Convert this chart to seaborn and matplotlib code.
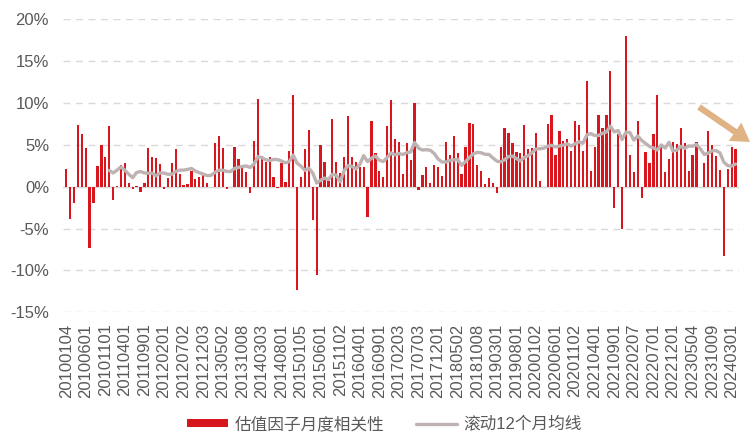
import numpy as np
import pandas as pd
import matplotlib
matplotlib.use("Agg")
import matplotlib.pyplot as plt
import seaborn as sns
from matplotlib.patches import Patch
from matplotlib.lines import Line2D

# ---- data (monthly, Jan 2010 .. Apr 2024), values in % ----
corr_values = [
    2.1, -3.9, -2.0, 7.4, 6.3, 4.6, -7.3, -2.0, 2.5, 5.0, 3.5, 7.2, -1.6,
    0.1, 2.6, 2.8, 0.5, -0.3, 0.1, -0.6, 0.4, 4.6, 3.6, 3.4, 2.7, -0.3, 1.0, 2.8,
    4.5, 1.5, 0.2, 0.3, 1.9, 0.9, 1.2, 1.4, 0.5, 0.0, 5.2, 6.0, 4.6, -0.3, 0.0,
    4.8, 3.3, 2.4, 1.8, -0.7, 5.5, 10.5, 3.7, 3.0, 3.6, 1.2, -0.2, 2.8, 0.6, 4.3, 11.0,
    -12.3, 1.2, 4.5, 6.8, -4.0, -10.5, 5.0, 3.0, 0.7, 8.1, 3.0, 1.6, 3.5, 8.5, 3.5,
    3.0, 2.4, 2.3, -3.6, 7.8, 4.0, 1.9, 1.2, 7.2, 10.3, 5.7, 5.4, 1.5, 5.2, 3.2,
    10.0, -0.4, 1.4, 2.4, 0.4, 2.6, 2.4, 1.3, 5.3, 3.8, 6.0, 4.0, 1.5, 4.7, 7.6,
    7.5, 2.6, 1.9, 0.3, 1.0, 0.4, -0.8, 4.8, 7.0, 6.4, 5.2, 4.2, 4.0, 7.4, 4.5, 4.6,
    6.4, 0.7, 0.0, 7.5, 8.6, 3.8, 6.7, 5.5, 5.7, 4.3, 7.8, 7.4, 4.3, 12.6, 1.9,
    4.8, 8.6, 7.0, 8.6, 13.8, -2.6, 6.3, -5.1, 18.0, 3.8, 1.7, 7.8, -1.4, 4.1, 2.8,
    6.3, 10.9, 4.7, 1.8, 3.3, 5.3, 5.1, 7.0, 5.2, 1.9, 3.8, 5.3, 0.0, 2.8, 6.7,
    5.0, 3.7, 2.0, -8.3, 2.1, 4.8, 4.5,
]
months = pd.date_range("2010-01-01", periods=len(corr_values), freq="MS").strftime("%Y%m").tolist()
tick_labels = [
    "20100104", "20100601", "20101101", "20110401", "20110901", "20120201",
    "20120702", "20121203", "20130502", "20131008", "20140303", "20140801",
    "20150105", "20150601", "20151102", "20160401", "20160901", "20170203",
    "20170703", "20171201", "20180502", "20181008", "20190301", "20190801",
    "20200102", "20200601", "20201102", "20210401", "20210901", "20220207",
    "20220701", "20221201", "20230504", "20231009", "20240301",
]
bar_label = "估值因子月度相关性"
line_label = "滚动12个月均线"

df = pd.DataFrame({"month": months, "corr": corr_values})
df["pos"] = np.arange(len(df))
df["roll"] = df["corr"].rolling(12).mean()

# ---- style ----
sns.set_style("white")
plt.rcParams["font.family"] = ["Liberation Sans", "Noto Sans CJK SC", "DejaVu Sans"]

RED = "#D7161E"
GREY_LINE = "#BEB2B2"
TXT = "#595959"

fig = plt.figure(figsize=(7.5, 4.44), dpi=100)
ax = fig.add_axes([0.084, 0.2966, 0.901, 0.66])

sns.barplot(data=df, x="month", y="corr", color=RED, saturation=1, width=0.58,
            linewidth=0, ax=ax, zorder=3)
sns.lineplot(data=df, x="pos", y="roll", color=GREY_LINE, linewidth=2.4, ax=ax,
             zorder=4)

ax.set_xlim(-0.8, len(df) - 0.2)
ax.set_ylim(-15, 20)
yt = np.arange(-15, 21, 5)
ax.set_yticks(yt)
ax.set_yticklabels([f"{v}%" for v in yt], fontsize=12, color=TXT)
ax.set_xticks(np.arange(0, len(df), 5)[:len(tick_labels)])
ax.set_xticklabels(tick_labels, rotation=90, fontsize=12, color=TXT)
ax.tick_params(axis="both", length=0)
ax.tick_params(axis="x", pad=8)
ax.tick_params(axis="y", pad=10)
ax.set_xlabel("")
ax.set_ylabel("")

for s in ax.spines.values():
    s.set_visible(False)
for v in yt:
    ax.axhline(v, color="#D9D9D9", lw=1.0, ls=(0, (5, 4)), zorder=1)
ax.axhline(0, color="#D9D9D9", lw=1.0, zorder=2)

handles = [Patch(facecolor=RED, edgecolor="none"),
           Line2D([0], [0], color=GREY_LINE, lw=2.4)]
fig.legend(handles, [bar_label, line_label], loc="center",
           bbox_to_anchor=(0.513, 0.045), ncol=2, frameon=False,
           fontsize=12, labelcolor=TXT, handlelength=2.45, handleheight=0.42,
           handletextpad=0.4, columnspacing=1.9)

# decorative arrow (downward trend)
ax.annotate("", xy=(750, 302), xytext=(699, 337), xycoords="figure pixels",
            textcoords="figure pixels", annotation_clip=False,
            arrowprops=dict(facecolor="#DFB383", edgecolor="none", width=4.5,
                            headwidth=16, headlength=13, shrink=0))

fig.savefig("out.png", dpi=100)
